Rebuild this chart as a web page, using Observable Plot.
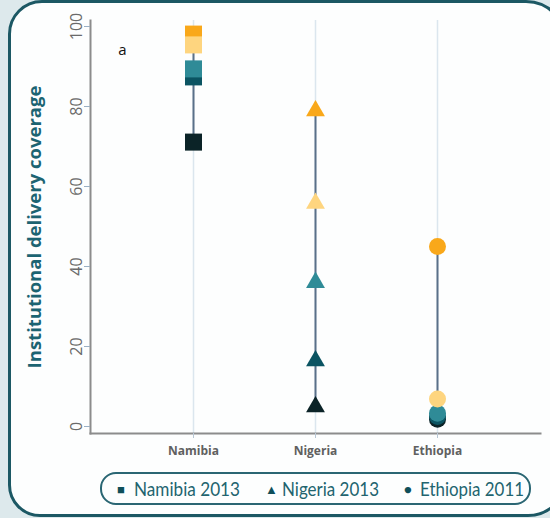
<!DOCTYPE html>
<html><head><meta charset="utf-8">
<script src="https://cdn.jsdelivr.net/npm/d3@7"></script>
<script src="https://cdn.jsdelivr.net/npm/@observablehq/plot@0.6"></script>
<style>
html,body{margin:0;padding:0;width:550px;height:518px;overflow:hidden;background:#dde9ec;}
#panel{position:absolute;left:8px;top:0;width:554px;height:511px;border:3px solid #1c5864;border-radius:34px 42px 40px 32px;background:#fdfefe;}
#chart{position:absolute;left:0;top:0;}
#legend{position:absolute;left:100px;top:472px;width:427px;height:29px;border:2px solid #2a6673;border-radius:16px;font-family:Lato,"Open Sans",sans-serif;color:#22646f;}
#legend span{position:absolute;top:50%;white-space:nowrap;}
#legend .sym{font-size:13px;color:#0f4f5a;transform:translateY(-52%);}
#legend .txt{font-size:20px;transform-origin:left center;}
</style></head>
<body>
<div id="panel"></div>
<div id="chart"></div>
<div id="legend"></div>
<script>
const countries = ["Namibia", "Nigeria", "Ethiopia"];
const surveyYears = ["Namibia 2013", "Nigeria 2013", "Ethiopia 2011"];
const groups = ["Poorest", "Poorer", "Middle", "Richer", "Richest"];
const namibia = [71.1, 87.4, 89.4, 95.4, 98.1];
const nigeria = [4.9, 16.4, 36.0, 55.8, 78.9];
const ethiopia = [1.8, 2.5, 3.3, 6.9, 45.0];
const groupColors = ["#0b2327", "#0b5462", "#2f8b97", "#fed57f", "#f9a81a"];
const symbols = ["square", "triangle", "circle"];
const symbolR = [9.6, 7.0, 8.5];
const drawOrder = [0, 1, 4, 2, 3];
const yTicks = [0, 20, 40, 60, 80, 100];

const series = [namibia, nigeria, ethiopia];
const points = [];
countries.forEach((c, ci) => {
  drawOrder.forEach(gi => points.push({country: c, group: groups[gi], value: series[ci][gi], ci}));
});
const ranges = countries.map((c, ci) => ({country: c, min: d3.min(series[ci]), max: d3.max(series[ci])}));

const chart = Plot.plot({
  width: 550,
  height: 470,
  marginLeft: 90,
  marginRight: 10,
  marginTop: 20,
  marginBottom: 37,
  style: {background: "transparent", fontFamily: "Open Sans, sans-serif"},
  x: {type: "point", domain: countries, padding: 0.84},
  y: {domain: [-1.75, 101.5]},
  color: {domain: groups, range: groupColors},
  marks: [
    Plot.gridX({stroke: "#dbe6ee", strokeOpacity: 1, strokeWidth: 1.5}),
    Plot.frame({anchor: "left", stroke: "#8c8c8c", strokeWidth: 2}),
    Plot.frame({anchor: "bottom", stroke: "#8c8c8c", strokeWidth: 2}),
    Plot.axisY({ticks: yTicks, tickSize: 6, tickRotate: -90, tickPadding: 3, fontSize: 16, color: "#6a6a6a", stroke: "#9bb0c4", label: null}),
    Plot.axisX({tickSize: 5, tickPadding: 8, fontSize: 12, fontWeight: "bold", color: "#606060", stroke: "#b7c6d4", label: null}),
    Plot.text(["Institutional delivery coverage"], {frameAnchor: "left", rotate: -90, dx: -55, dy: 0, textAnchor: "middle", fontSize: 18.5, fontWeight: "bold", fill: "#1c6472"}),
    Plot.text(["a"], {frameAnchor: "top-left", dx: 32, dy: 30, textAnchor: "middle", lineAnchor: "middle", fontSize: 15, fill: "#111"}),
    Plot.ruleX(ranges, {x: "country", y1: "min", y2: "max", stroke: "#5a7089", strokeWidth: 2}),
    ...countries.map((c, ci) => Plot.dot(points.filter(d => d.ci === ci), {x: "country", y: "value", fill: "group", symbol: () => symbols[ci], r: symbolR[ci], stroke: "none"}))
  ]
});
document.getElementById("chart").appendChild(chart);

const legendPos = [[15, 32], [163, 180], [302, 318]];
const legendWidth = [106, 97, 104];
const legendSym = ["■", "▲", "●"];
const legend = document.getElementById("legend");
surveyYears.forEach((s, i) => {
  const a = document.createElement("span"); a.className = "sym"; a.textContent = legendSym[i]; a.style.left = legendPos[i][0] + "px"; legend.appendChild(a);
  const b = document.createElement("span"); b.className = "txt"; b.textContent = s; b.style.left = legendPos[i][1] + "px"; legend.appendChild(b);
  const w = b.getBoundingClientRect().width;
  b.style.transform = `translateY(-54%) scaleX(${legendWidth[i] / w})`;
});
</script>
</body></html>
